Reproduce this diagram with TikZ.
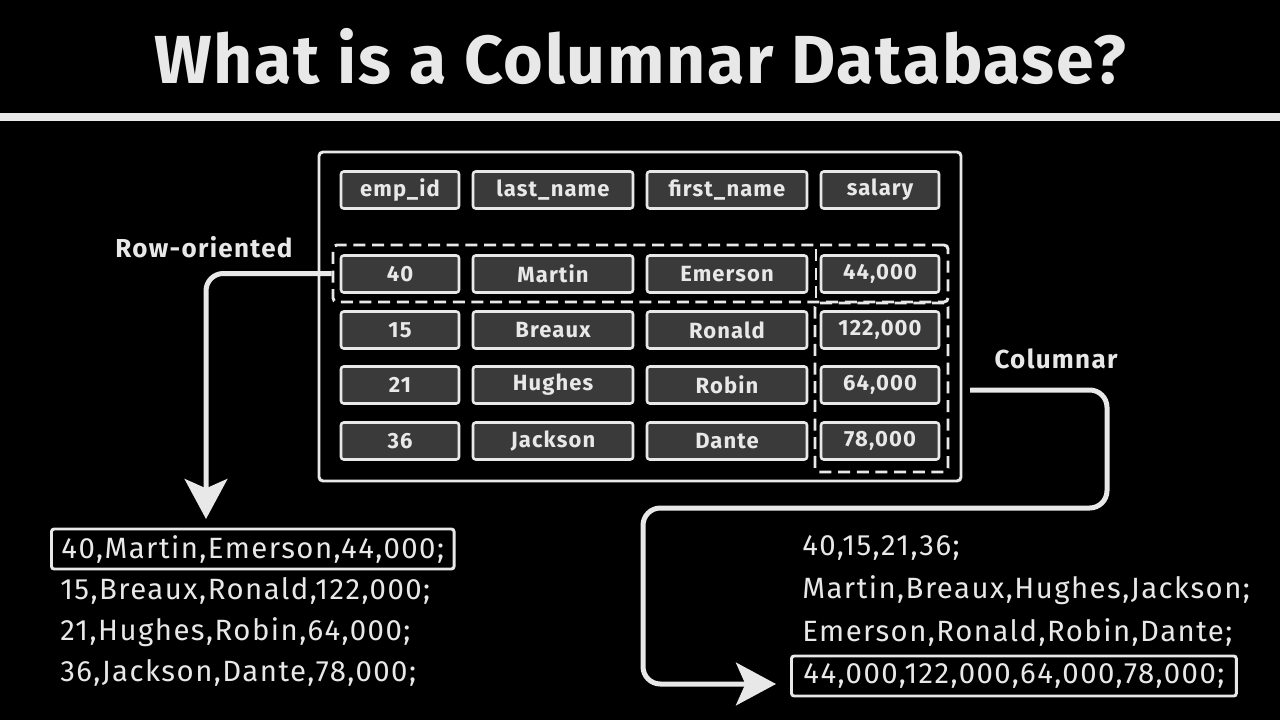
\documentclass[tikz,border=0pt]{standalone}
\usepackage{fontspec}
\setmainfont{Fira Sans}
\newfontfamily\spaced[LetterSpace=5]{Fira Sans}
\newfontfamily\titlefont[LetterSpace=2.5]{Fira Sans Bold}
\usetikzlibrary{arrows.meta,positioning}
\definecolor{ink}{HTML}{E8E8E8}
\definecolor{cellgray}{HTML}{3A3A3A}
\tikzset{
  cell/.style={draw=ink,fill=cellgray,line width=1.9pt,rounded corners=2pt,
    minimum height=27.75pt,inner sep=0pt,text=ink,
    font=\spaced\bfseries\fontsize{16.5}{19}\selectfont},
  narrow/.style={cell,minimum width=88.5pt},
  wide/.style={cell,minimum width=120pt},
  dashbox/.style={draw=ink,line width=2.2pt,dash pattern=on 9pt off 5pt,rounded corners=3pt,inner sep=0pt},
  outline/.style={anchor=west,text=ink,inner xsep=7.5pt,inner ysep=0pt,minimum height=30pt,
    font=\spaced\fontsize{22}{25}\selectfont},
  flow/.style={ink,line width=3.75pt,rounded corners=13pt,-{Stealth[length=30pt,width=32pt,inset=7pt]}}
}
\begin{document}
\begin{tikzpicture}[x=0.75pt,y=-0.75pt]
  \useasboundingbox (0,0) rectangle (1280,720);
  \fill[black] (0,0) rectangle (1280,720);
  % title
  \node[text=ink,font=\titlefont\fontsize{51}{56}\selectfont] (title) at (640,57) {What is a Columnar Database?};
  \draw[ink,line width=6pt] (0,117) -- (1280,117);
  % table
  \node[draw=ink,line width=2.2pt,rounded corners=3pt,minimum width=481.5pt,minimum height=246.75pt] (table) at (640,316.5) {};
  \node[narrow] (hid) at (400,190) {emp\_id};
  \node[wide] (hlast) at (553,190) {last\_name};
  \node[wide] (hfirst) at (727,190) {first\_name};
  \node[narrow] (hsal) at (880,190) {salary};
  \node[narrow] (id1) at (400,274) {40};
  \node[wide] (last1) at (553,274) {Martin};
  \node[wide] (first1) at (727,274) {Emerson};
  \node[narrow] (sal1) at (880,274) {44,000};
  \node[narrow] (id2) at (400,330) {15};
  \node[wide] (last2) at (553,330) {Breaux};
  \node[wide] (first2) at (727,330) {Ronald};
  \node[narrow] (sal2) at (880,330) {122,000};
  \node[narrow] (id3) at (400,385) {21};
  \node[wide] (last3) at (553,385) {Hughes};
  \node[wide] (first3) at (727,385) {Robin};
  \node[narrow] (sal3) at (880,385) {64,000};
  \node[narrow] (id4) at (400,441) {36};
  \node[wide] (last4) at (553,441) {Jackson};
  \node[wide] (first4) at (727,441) {Dante};
  \node[narrow] (sal4) at (880,441) {78,000};
  % dashed selections
  \node[dashbox,minimum width=461.25pt,minimum height=42.75pt] (rowbox) at (640.5,273.5) {};
  \node[dashbox,minimum width=99.75pt,minimum height=126.75pt] (colbox) at (881.5,387.5) {};
  \draw[ink,line width=2.2pt,dash pattern=on 9pt off 5pt] (816,249) -- (816,300);
  % labels
  \node[text=ink,font=\spaced\bfseries\fontsize{19.5}{23}\selectfont] (rowlabel) at (204,247) {Row-oriented};
  \node[text=ink,font=\spaced\bfseries\fontsize{19.5}{23}\selectfont] (collabel) at (1056,359) {Columnar};
  % row-oriented storage
  \node[outline,draw=ink,line width=2.2pt,rounded corners=2pt] (r1) at (50,549) {40,Martin,Emerson,44,000;};
  \node[outline] (r2) at (50,591) {15,Breaux,Ronald,122,000;};
  \node[outline] (r3) at (50,632) {21,Hughes,Robin,64,000;};
  \node[outline] (r4) at (50,673) {36,Jackson,Dante,78,000;};
  % columnar storage
  \node[outline,inner xsep=9pt] (c1) at (790,548) {40,15,21,36;};
  \node[outline,inner xsep=9pt] (c2) at (790,590) {Martin,Breaux,Hughes,Jackson;};
  \node[outline,inner xsep=9pt] (c3) at (790,632) {Emerson,Ronald,Robin,Dante;};
  \node[outline,inner xsep=9pt,draw=ink,line width=2.2pt,rounded corners=2pt] (c4) at (790,676) {44,000,122,000,64,000,78,000;};
  % arrows
  \coordinate (rowtip) at (206,519);
  \coordinate (colstart) at (970,390);
  \coordinate (coltip) at (776,684);
  \draw[flow] (rowbox.west) -| (rowtip);
  \draw[flow] (colstart) -- (1107,390) -- (1107,508) -- (643,508) -- (643,684) -- (coltip);
\end{tikzpicture}
\end{document}
